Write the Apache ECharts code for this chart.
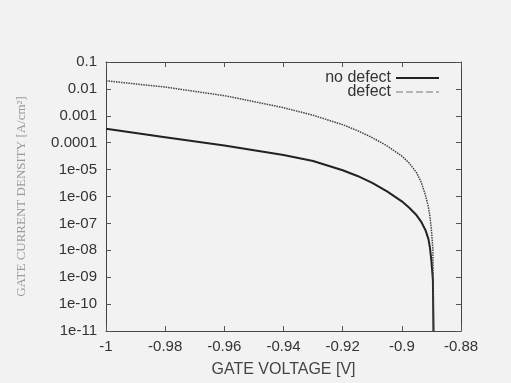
<!DOCTYPE html>
<html><head><meta charset="utf-8">
<script src="https://cdn.jsdelivr.net/npm/echarts@6/dist/echarts.min.js"></script>
<style>html,body{margin:0;padding:0;background:#f2f2f2}#c{width:511px;height:383px}</style>
</head><body><div id="c"></div>
<script>
const voltage = [-1, -0.98, -0.96, -0.94, -0.93, -0.92, -0.915, -0.91, -0.905, -0.90, -0.8975, -0.895, -0.8935, -0.892, -0.891, -0.8905, -0.89, -0.8895, -0.8893];
const noDefect = [3.3e-4, 1.6e-4, 7.8e-5, 3.5e-5, 2.1e-5, 9.5e-6, 5.8e-6, 3.2e-6, 1.55e-6, 6.6e-7, 3.8e-7, 2.0e-7, 1.17e-7, 5.6e-8, 2.6e-8, 1.26e-8, 4.0e-9, 7.9e-10, 1e-11];
const defect = [2.0e-2, 1.17e-2, 5.6e-3, 2.0e-3, 1.05e-3, 4.7e-4, 2.8e-4, 1.55e-4, 7.6e-5, 3.2e-5, 1.74e-5, 7.6e-6, 3.5e-6, 1.1e-6, 4.0e-7, 1.8e-7, 5.6e-8, 1.1e-8, 1e-11];
const xTicks = [-1, -0.98, -0.96, -0.94, -0.92, -0.9, -0.88];
const yTickLabels = ['1e-11','1e-10','1e-09','1e-08','1e-07','1e-06','1e-05','0.0001','0.001','0.01','0.1'];

const chart = echarts.init(document.getElementById('c'));
const axisLine = {show: true, lineStyle: {color: '#444', width: 1}};
const lbl = {color: '#333', fontFamily: 'Liberation Sans, Arial', fontSize: 15};
function yFmt(v){ const e = Math.round(Math.log10(v)); return yTickLabels[e + 11]; }
function xFmt(v){ const r = Math.round(v*100)/100; const s = xTicks.find(t => Math.abs(t - r) < 1e-9); return String(s); }
chart.setOption({
  backgroundColor: '#f2f2f2',
  animation: false,
  grid: {left: 106, right: 50, top: 62, bottom: 51},
  legend: {
    right: 66, top: 65, orient: 'vertical', align: 'right',
    itemWidth: 43, itemHeight: 10, itemGap: -2,
    itemStyle: {opacity: 0},
    textStyle: {color: '#333', fontFamily: 'Liberation Sans, Arial', fontSize: 16, padding: [0, 0, 0, 0]},
    data: [
      {name: 'no defect', lineStyle: {color: '#222', width: 2}},
      {name: 'defect', lineStyle: {color: '#777', width: 1, type: [7, 3]}}
    ]
  },
  xAxis: [{
    type: 'value', min: -1, max: -0.88, interval: 0.02,
    name: 'GATE VOLTAGE [V]', nameLocation: 'middle', nameGap: 31,
    nameTextStyle: {color: '#444', fontFamily: 'Liberation Sans, Arial', fontSize: 16},
    axisLine: axisLine, axisTick: {inside: true, length: 5, lineStyle: {color: '#555'}},
    axisLabel: Object.assign({margin: 8, formatter: xFmt}, lbl),
    splitLine: {show: false}
  }, {
    type: 'value', min: -1, max: -0.88, interval: 0.02, position: 'top',
    axisLine: axisLine, axisTick: {inside: true, length: 5, lineStyle: {color: '#555'}},
    axisLabel: {show: false}, splitLine: {show: false}
  }],
  yAxis: [{
    type: 'log', logBase: 10, min: 1e-11, max: 0.1, interval: 1,
    name: 'GATE CURRENT DENSITY [A/cm²]', nameLocation: 'middle', nameGap: 78,
    nameTextStyle: {color: '#9a9a9a', fontFamily: 'Liberation Serif, Times New Roman', fontSize: 13},
    axisLine: axisLine, axisTick: {inside: true, length: 5, lineStyle: {color: '#555'}},
    axisLabel: Object.assign({margin: 9, formatter: yFmt, showMinLabel: true, showMaxLabel: true, hideOverlap: false}, lbl),
    splitLine: {show: false}
  }, {
    type: 'log', logBase: 10, min: 1e-11, max: 0.1, interval: 1, position: 'right',
    axisLine: axisLine, axisTick: {inside: true, length: 5, lineStyle: {color: '#555'}},
    axisLabel: {show: false}, splitLine: {show: false}
  }],
  series: [{
    name: 'no defect', type: 'line', symbol: 'none', smooth: false,
    lineStyle: {color: '#222', width: 2},
    itemStyle: {color: '#222'},
    data: voltage.map((v, i) => [v, noDefect[i]])
  }, {
    name: 'defect', type: 'line', symbol: 'none', smooth: false,
    lineStyle: {color: '#444', width: 1.5, type: [1.5, 1]},
    itemStyle: {color: '#444'},
    data: voltage.map((v, i) => [v, defect[i]])
  }]
});
</script></body></html>
